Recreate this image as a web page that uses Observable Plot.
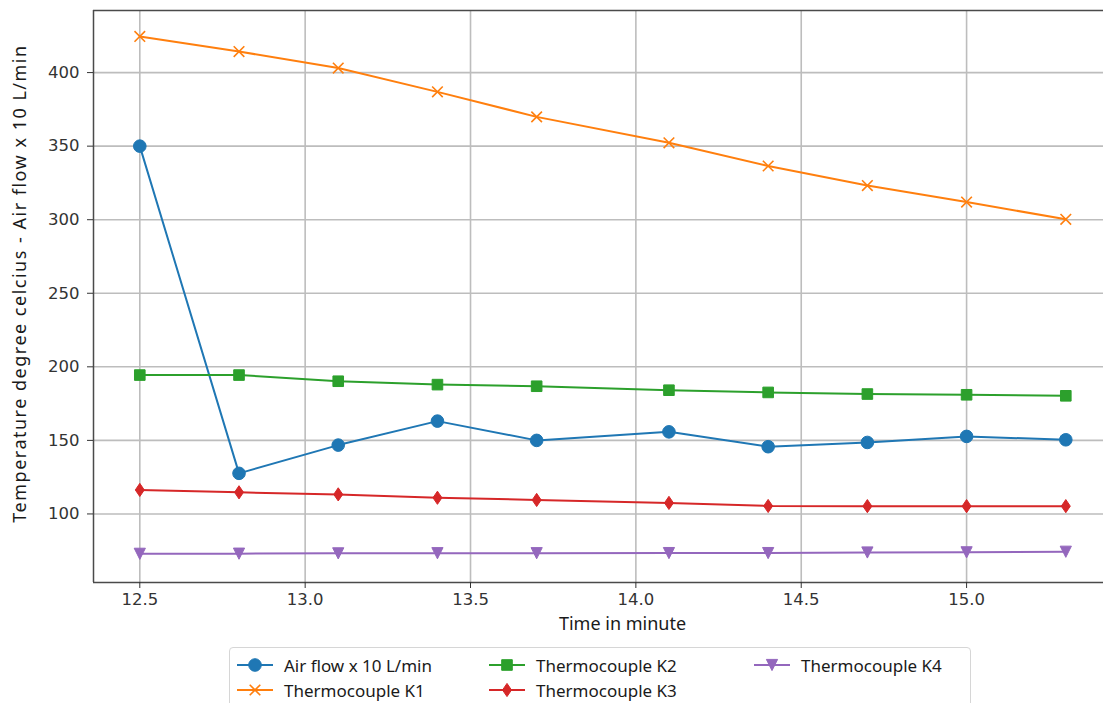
<!DOCTYPE html>
<html>
<head>
<meta charset="utf-8">
<script src="https://cdn.jsdelivr.net/npm/d3@7"></script>
<script src="https://cdn.jsdelivr.net/npm/@observablehq/plot@0.6"></script>
<style>
  html, body { margin: 0; padding: 0; background: #fff; overflow: hidden; }
  #wrap { position: relative; width: 1103px; height: 703px; }
  #legend {
    position: absolute; left: 229px; top: 647px; width: 742px; height: 70px;
    border: 1px solid #d6d6d6; border-radius: 4px; box-sizing: border-box;
    font-family: "Noto Sans", sans-serif; font-size: 17px; color: #1a1a1a;
  }
  .item { position: absolute; display: flex; align-items: center; height: 24px; white-space: nowrap; }
  .item svg { margin-right: 10px; }
</style>
</head>
<body>
<div id="wrap"></div>
<script>
// ---------- data ----------
const time = [12.5, 12.8, 13.1, 13.4, 13.7, 14.1, 14.4, 14.7, 15.0, 15.3];
const airFlow = [350, 127.6, 146.8, 163.1, 150, 155.8, 145.7, 148.6, 152.7, 150.4];
const thermoK1 = [424.6, 414.3, 403.1, 386.9, 369.9, 352.3, 336.5, 323.2, 312, 300.3];
const thermoK2 = [194.4, 194.4, 190.2, 187.9, 186.8, 184.1, 182.6, 181.5, 181, 180.3];
const thermoK3 = [116.3, 114.7, 113.3, 111, 109.5, 107.5, 105.4, 105.3, 105.3, 105.3];
const thermoK4 = [72.9, 73, 73.2, 73.3, 73.3, 73.4, 73.4, 73.8, 73.9, 74.3];
const seriesNames = ["Air flow x 10 L/min", "Thermocouple K1", "Thermocouple K2", "Thermocouple K3", "Thermocouple K4"];
const seriesValues = [airFlow, thermoK1, thermoK2, thermoK3, thermoK4];
const seriesColors = ["#1f77b4", "#ff7f0e", "#2ca02c", "#d62728", "#9467bd"];
const xTicks = [12.5, 13.0, 13.5, 14.0, 14.5, 15.0];
const yTicks = [100, 150, 200, 250, 300, 350, 400];
const xLabel = "Time in minute";
const yLabel = "Temperature degree celcius - Air flow x 10 L/min";
const xDomain = [12.36, 15.414];
const yDomain = [53.4, 442.2];

// ---------- marker symbols (matplotlib-like) ----------
const rOf = size => Math.sqrt(size / Math.PI);
const symCircle = {draw(c, s) { const r = rOf(s); c.moveTo(r, 0); c.arc(0, 0, r, 0, 2 * Math.PI); }};
const symSquare = {draw(c, s) { const r = rOf(s); c.rect(-r, -r, 2 * r, 2 * r); }};
const symThinDiamond = {draw(c, s) { const r = rOf(s); const w = r * 0.68; c.moveTo(0, -r); c.lineTo(w, 0); c.lineTo(0, r); c.lineTo(-w, 0); c.closePath(); }};
const symTriDown = {draw(c, s) { const r = rOf(s); c.moveTo(0, r); c.lineTo(-r, -r); c.lineTo(r, -r); c.closePath(); }};
const symX = {draw(c, s) { const r = rOf(s); c.moveTo(-r, -r); c.lineTo(r, r); c.moveTo(r, -r); c.lineTo(-r, r); }};
const markers = [
  {symbol: symCircle, r: 6.3, filled: true},
  {symbol: symX, r: 5.3, filled: false},
  {symbol: symSquare, r: 5.3, filled: true},
  {symbol: symThinDiamond, r: 6.6, filled: true},
  {symbol: symTriDown, r: 5.6, filled: true}
];

const data = seriesNames.map((name, i) => time.map((t, j) => ({time: t, value: seriesValues[i][j], series: name})));

const marks = [
  Plot.gridX(xTicks, {stroke: "#bdbdbd", strokeOpacity: 1, strokeWidth: 1.6}),
  Plot.gridY(yTicks, {stroke: "#bdbdbd", strokeOpacity: 1, strokeWidth: 1.6}),
  Plot.ruleX([xDomain[0]], {stroke: "#4a4a4a", strokeWidth: 1.5}),
  Plot.ruleY([yDomain[0], yDomain[1]], {stroke: "#4a4a4a", strokeWidth: 1.5}),
  Plot.axisX(xTicks, {tickSize: 6, tickPadding: 5, tickFormat: d => d.toFixed(1), label: null, stroke: "#333"}),
  Plot.axisY(yTicks, {tickSize: 6, tickPadding: 8, label: null, stroke: "#333"})
];
data.forEach((rows, i) => {
  const col = seriesColors[i];
  const m = markers[i];
  marks.push(Plot.line(rows, {x: "time", y: "value", stroke: col, strokeWidth: 2}));
  marks.push(Plot.dot(rows, {x: "time", y: "value", symbol: m.symbol, r: m.r,
    fill: m.filled ? col : "none", stroke: col, strokeWidth: m.filled ? 1 : 1.6}));
});
marks.push(Plot.text([xLabel], {frameAnchor: "bottom", textAnchor: "middle", lineAnchor: "middle", dx: 24, dy: 42, fontSize: 18, fontFamily: "Noto Sans", fill: "#1a1a1a"}));
marks.push(Plot.text([yLabel], {frameAnchor: "left", textAnchor: "middle", lineAnchor: "middle", rotate: -90, dx: -73, dy: -13, fontSize: 18, fontFamily: "Noto Sans", fill: "#1a1a1a"}));

const chart = Plot.plot({
  width: 1103,
  height: 645,
  marginLeft: 93,
  marginRight: 0,
  marginTop: 10,
  marginBottom: 63,
  x: {domain: xDomain},
  y: {domain: yDomain},
  style: {fontFamily: "DejaVu Sans", fontSize: "16.5px", color: "#333", background: "#fff", overflow: "visible"},
  marks
});
// widen the y-axis title's letter spacing to match the reference's rendering
chart.querySelectorAll("text").forEach(t => {
  if (t.textContent === yLabel) t.style.letterSpacing = "1.5px";
});
const wrap = document.getElementById("wrap");
wrap.appendChild(chart);

// ---------- legend (HTML, column-major like matplotlib ncol=3) ----------
const legend = document.createElement("div");
legend.id = "legend";
const colLeft = [6, 258, 523];
seriesNames.forEach((name, i) => {
  const col = Math.floor(i / 2), row = i % 2;
  const item = document.createElement("div");
  item.className = "item";
  item.style.left = colLeft[col] + "px";
  item.style.top = (5 + row * 25) + "px";
  const svg = d3.create("svg").attr("width", 38).attr("height", 16);
  svg.append("line").attr("x1", 1).attr("x2", 37).attr("y1", 8).attr("y2", 8)
    .attr("stroke", seriesColors[i]).attr("stroke-width", 2);
  const m = markers[i];
  const path = d3.path();
  m.symbol.draw(path, Math.PI * m.r * m.r);
  svg.append("path").attr("d", path.toString()).attr("transform", "translate(19,8)")
    .attr("fill", m.filled ? seriesColors[i] : "none").attr("stroke", seriesColors[i])
    .attr("stroke-width", m.filled ? 1 : 1.6);
  item.appendChild(svg.node());
  const span = document.createElement("span");
  span.textContent = name;
  item.appendChild(span);
  legend.appendChild(item);
});
wrap.appendChild(legend);
</script>
</body>
</html>
